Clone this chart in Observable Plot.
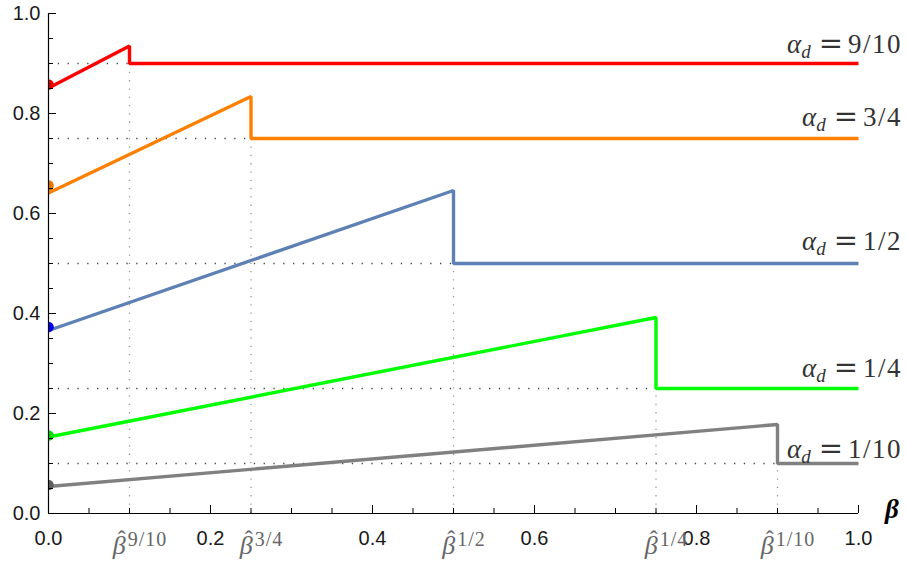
<!DOCTYPE html>
<html><head><meta charset="utf-8">
<script src="https://cdn.jsdelivr.net/npm/d3@7"></script>
<script src="https://cdn.jsdelivr.net/npm/@observablehq/plot@0.6"></script>
<style>body{margin:0;background:#fff}</style>
</head><body><div id="chart"></div>
<script>
// data
const alphaLabels = ["9/10", "3/4", "1/2", "1/4", "1/10"];
const alphas = [0.9, 0.75, 0.5, 0.25, 0.1];
const betaHats = [0.1, 0.25, 0.5, 0.75, 0.9];
const startValues = [0.851, 0.641, 0.366, 0.153, 0.054];
const peakValues = [0.935, 0.834, 0.646, 0.392, 0.178];
const dotValues = [0.858, 0.656, 0.373, 0.156, 0.057];
const labelY = [0.92, 0.775, 0.526, 0.273, 0.111];
const lineColors = ["#ff0000", "#ff8000", "#5e81b5", "#00ff00", "#808080"];
const dotColors = ["#e80000", "#e87400", "#0000f0", "#00e000", "#606060"];
const xMajorTicks = [0, 0.2, 0.4, 0.6, 0.8, 1.0];
const yMajorTicks = [0, 0.2, 0.4, 0.6, 0.8, 1.0];
const minorTicks = [0.05, 0.1, 0.15, 0.25, 0.3, 0.35, 0.45, 0.5, 0.55, 0.65, 0.7, 0.75, 0.85, 0.9, 0.95];

const lineData = [];
alphas.forEach((a, i) => {
  const b = betaHats[i];
  lineData.push({series: i, x: 0, y: startValues[i], color: lineColors[i]});
  lineData.push({series: i, x: b, y: peakValues[i], color: lineColors[i]});
  lineData.push({series: i, x: b, y: a, color: lineColors[i]});
  lineData.push({series: i, x: 1, y: a, color: lineColors[i]});
});
const guide = alphas.map((a, i) => ({alpha: a, beta: betaHats[i]}));
const dotData = dotValues.map((v, i) => ({x: 0, y: v, color: dotColors[i]}));
const fmt = d3.format(".1f");
const sans = "Liberation Sans, Arial, sans-serif";

const chart = Plot.plot({
  width: 906, height: 568,
  marginLeft: 48, marginRight: 48, marginTop: 13, marginBottom: 55,
  x: {domain: [0, 1], axis: null},
  y: {domain: [0, 1], axis: null},
  color: {type: "identity"},
  style: {fontFamily: sans, fontSize: "20px", background: "white", overflow: "visible"},
  marks: [
    Plot.ruleY(guide, {y: "alpha", x1: 0, x2: "beta", stroke: "#444", strokeWidth: 1.3, strokeDasharray: "1.3,8.5"}),
    Plot.ruleX(guide, {x: "beta", y1: 0, y2: "alpha", stroke: "#999", strokeWidth: 1.3, strokeDasharray: "1.3,7"}),
    Plot.line(lineData, {x: "x", y: "y", z: "series", stroke: "color", strokeWidth: 3.4, strokeLinejoin: "miter", strokeLinecap: "butt"}),
    Plot.dot(dotData, {x: "x", y: "y", r: 5.3, fill: "color", clip: true}),
    Plot.ruleX([0], {stroke: "#000", strokeWidth: 1.2}),
    Plot.ruleY([0], {stroke: "#000", strokeWidth: 1.2}),
    Plot.axisX(minorTicks, {tickSize: -5, tickFormat: () => "", stroke: "#000"}),
    Plot.axisX(xMajorTicks, {tickSize: -8, tickFormat: () => "", stroke: "#000"}),
    Plot.axisY(minorTicks, {tickSize: -5, tickFormat: () => "", stroke: "#000"}),
    Plot.axisY(yMajorTicks, {tickSize: -8, tickFormat: () => "", stroke: "#000"}),
    Plot.text(xMajorTicks, {x: d => d, frameAnchor: "bottom", dy: 31, text: fmt, fontSize: 20, fontFamily: sans, fill: "#1a1a1a", textAnchor: "middle", lineAnchor: "bottom"}),
    Plot.text(yMajorTicks, {y: d => d, frameAnchor: "left", dx: -8, text: fmt, fontSize: 20, fontFamily: sans, fill: "#1a1a1a", textAnchor: "end", lineAnchor: "middle"})
  ]
});
document.getElementById("chart").appendChild(chart);

const svg = d3.select(chart);
const sx = chart.scale("x"), sy = chart.scale("y");
const serif = "Liberation Serif, Times New Roman, serif";

// alpha labels
alphas.forEach((a, i) => {
  const t = svg.append("text")
    .attr("x", sx.apply(1) + 44).attr("y", sy.apply(labelY[i]))
    .attr("text-anchor", "end").attr("font-family", serif)
    .attr("font-size", 27).attr("fill", "#333");
  t.append("tspan").attr("font-style", "italic").text("α");
  t.append("tspan").attr("font-style", "italic").attr("font-size", 19).attr("dy", 5).text("d");
  t.append("tspan").attr("dy", -5).attr("dx", 8).attr("font-family", "DejaVu Serif").attr("font-size", 29).text("=");
  t.append("tspan").attr("dx", 5).attr("letter-spacing", 1.5).text(alphaLabels[i]);
});

// beta-hat tick labels
betaHats.forEach((b, i) => {
  const base = sy.apply(0) + 41;
  const gap = 2;
  const g = svg.append("g").attr("font-family", serif).attr("fill", "#666").attr("text-anchor", "start");
  const bt = g.append("text").attr("y", base).attr("font-size", 26).attr("font-style", "italic").attr("text-anchor", "start").text("β");
  const st = g.append("text").attr("y", base - 8).attr("font-size", 20).attr("letter-spacing", 1).attr("text-anchor", "start").text(alphaLabels[i]);
  const bw = bt.node().getComputedTextLength();
  const sw = st.node().getComputedTextLength();
  const x0 = sx.apply(b) + 11 - (bw + gap + sw) / 2;
  bt.attr("x", x0);
  st.attr("x", x0 + bw + gap);
  g.append("text").attr("x", x0 + bw / 2 + 2.5).attr("y", base - 7)
    .attr("text-anchor", "middle").attr("font-size", 24).text("\u02C6");
});

// axis label
svg.append("text")
  .attr("x", sx.apply(1) + 27).attr("y", sy.apply(0) + 5)
  .attr("text-anchor", "start")
  .attr("font-family", serif).attr("font-size", 27)
  .attr("font-weight", "bold").attr("font-style", "italic").attr("fill", "#000")
  .text("β");
</script>
</body></html>
